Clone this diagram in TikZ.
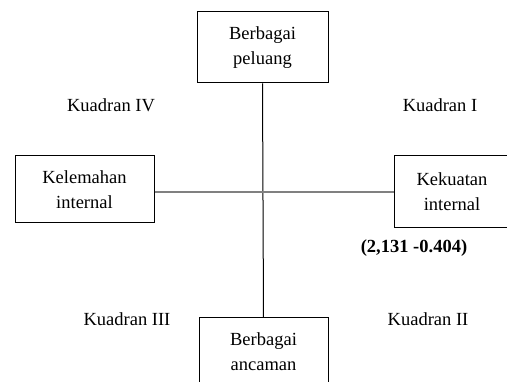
\documentclass[tikz,border=0pt]{standalone}
\usepackage{fontspec}
\setmainfont{Liberation Serif}
\begin{document}
\begin{tikzpicture}[x=1pt,y=-1pt,
  box/.style={draw=black,line width=1pt,align=center,inner sep=0pt,
    font=\fontsize{18.5}{25}\selectfont},
  lab/.style={anchor=base,inner sep=0pt,font=\fontsize{18.5}{25}\selectfont}]
\useasboundingbox (0,0) rectangle (507,382);
\node[box,minimum width=131pt,minimum height=71pt] (top) at (262.5,47.5) {Berbagai\\peluang};
\node[box,minimum width=129pt,minimum height=68pt] (bot) at (263.5,352) {Berbagai\\ancaman};
\node[box,minimum width=139pt,minimum height=67pt] (left) at (84.5,189.5) {Kelemahan\\internal};
\node[box,minimum width=116pt,minimum height=72pt] (right) at (452,192) {Kekuatan\\internal};
\draw[line width=1pt,black] (top.south) -- (bot.north);
\draw[line width=1.2pt,black!50] (left.east |- 0,192) -- (right.west |- 0,192);
\node[lab] (q4) at (111,112) {Kuadran IV};
\node[lab] (q1) at (440,112) {Kuadran I};
\node[lab] (q3) at (127,326) {Kuadran III};
\node[lab] (q2) at (428,326) {Kuadran II};
\node[lab,font=\fontsize{18.5}{25}\selectfont\bfseries] (val) at (414,253) {(2,131 -0.404)};
\end{tikzpicture}
\end{document}
